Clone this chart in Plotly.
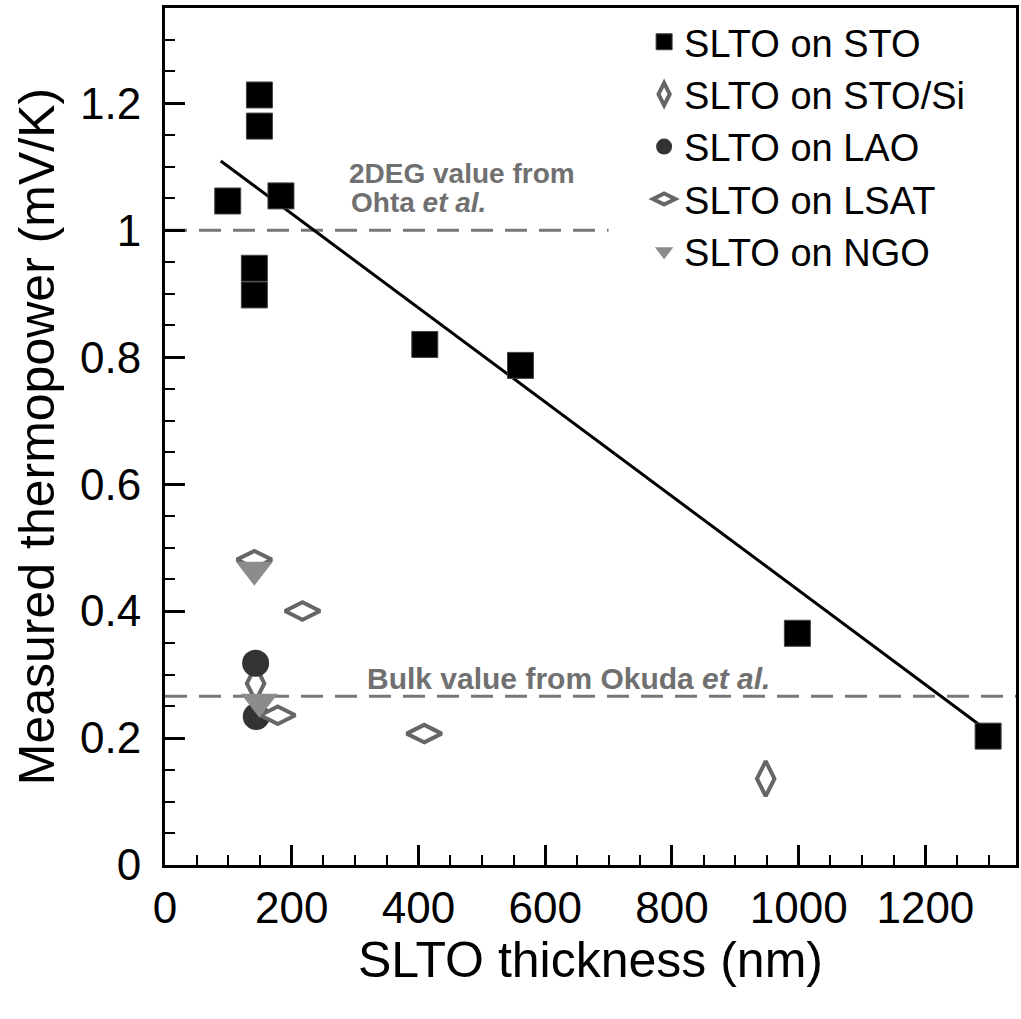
import plotly.graph_objects as go

# ---- data ----
sto_x = [99, 149, 149, 183, 141, 141, 410, 561, 998, 1299]
sto_y = [1.046, 1.213, 1.164, 1.054, 0.940, 0.898, 0.820, 0.787, 0.365, 0.203]

stosi_x = [143, 948]
stosi_y = [0.286, 0.136]

lao_x = [143, 144]
lao_y = [0.318, 0.234]

lsat_x = [141, 217, 178, 409]
lsat_y = [0.481, 0.400, 0.236, 0.207]

ngo_x = [141, 149]
ngo_y = [0.465, 0.257]

fit_x = [88, 1300]
fit_y = [1.109, 0.210]

twodeg_x = [0, 700]
twodeg_y = [1.0, 1.0]
bulk_x = [0, 1345]
bulk_y = [0.266, 0.266]

x_ticks = [0, 200, 400, 600, 800, 1000, 1200]
y_ticks = [0, 0.2, 0.4, 0.6, 0.8, 1.0, 1.2]
y_tick_text = ["0", "0.2", "0.4", "0.6", "0.8", "1", "1.2"]

FONT = "Liberation Sans, Arial, Helvetica, sans-serif"
GRAY_LINE = "#777777"
GRAY_TXT = "#707070"

fig = go.Figure()

# reference dashed lines
fig.add_trace(go.Scatter(x=twodeg_x, y=twodeg_y, mode="lines", showlegend=False,
                         line=dict(color=GRAY_LINE, width=3, dash="22px,12px"), hoverinfo="skip"))
fig.add_trace(go.Scatter(x=bulk_x, y=bulk_y, mode="lines", showlegend=False,
                         line=dict(color=GRAY_LINE, width=3, dash="22px,12px"), hoverinfo="skip"))
# linear fit
fig.add_trace(go.Scatter(x=fit_x, y=fit_y, mode="lines", showlegend=False,
                         line=dict(color="black", width=3), hoverinfo="skip"))

fig.add_trace(go.Scatter(x=sto_x, y=sto_y, mode="markers", name="SLTO on STO",
                         marker=dict(symbol="square", size=26, color="black",
                                     line=dict(color="#444", width=1))))
fig.add_trace(go.Scatter(x=stosi_x, y=stosi_y, mode="markers", name="SLTO on STO/Si",
                         marker=dict(symbol="diamond-tall", size=25, color="white",
                                     line=dict(color="#666666", width=4))))
fig.add_trace(go.Scatter(x=lao_x, y=lao_y, mode="markers", name="SLTO on LAO",
                         marker=dict(symbol="circle", size=27, color="#333333",
                                     line=dict(width=0))))
fig.add_trace(go.Scatter(x=lsat_x, y=lsat_y, mode="markers", name="SLTO on LSAT",
                         marker=dict(symbol="diamond-wide", size=25, color="white",
                                     line=dict(color="#666666", width=4))))
fig.add_trace(go.Scatter(x=ngo_x, y=ngo_y, mode="markers", name="SLTO on NGO",
                         marker=dict(symbol="triangle-down", size=32, color="#8c8c8c",
                                     line=dict(width=0))))

fig.add_annotation(x=287, y=1.090, text="<b>2DEG value from</b>", showarrow=False,
                   xanchor="left", yanchor="middle",
                   font=dict(family=FONT, size=28, color=GRAY_TXT))
fig.add_annotation(x=290, y=1.043, text="<b>Ohta <i>et al.</i></b>", showarrow=False,
                   xanchor="left", yanchor="middle",
                   font=dict(family=FONT, size=28, color=GRAY_TXT))
fig.add_annotation(x=316, y=0.294, text="<b>Bulk value from Okuda <i>et al.</i></b>", showarrow=False,
                   xanchor="left", yanchor="middle",
                   font=dict(family=FONT, size=30, color=GRAY_TXT))

axis_common = dict(
    showgrid=False, zeroline=False, showline=True, linecolor="black", linewidth=3,
    mirror=True, ticks="inside", ticklen=20, tickwidth=3, tickcolor="black",
    tickfont=dict(family=FONT, size=44, color="black"),
)

fig.update_xaxes(range=[0, 1343], tickvals=x_ticks,
                 minor=dict(dtick=50, ticks="inside", ticklen=10, tickwidth=2, tickcolor="black"),
                 ticklabelstandoff=2,
                 title=dict(text="SLTO thickness (nm)", font=dict(family=FONT, size=50, color="black"),
                            standoff=10),
                 **axis_common)
fig.update_yaxes(range=[0, 1.35], tickvals=y_ticks, ticktext=y_tick_text,
                 minor=dict(dtick=0.05, ticks="inside", ticklen=10, tickwidth=2, tickcolor="black"),
                 ticklabelstandoff=12,
                 title=dict(text="Measured thermopower (mV/K)", font=dict(family=FONT, size=50, color="black"),
                            standoff=10),
                 **axis_common)

fig.update_layout(
    width=1021, height=1019,
    margin=dict(l=165, r=2, t=8, b=154),
    plot_bgcolor="white", paper_bgcolor="white",
    legend=dict(x=0.563, y=0.997, xanchor="left", yanchor="top",
                bgcolor="rgba(255,255,255,0)", borderwidth=0,
                font=dict(family=FONT, size=38, color="black"),
                itemsizing="trace", tracegroupgap=0),
    font=dict(family=FONT),
)

fig.write_html("out.html")
